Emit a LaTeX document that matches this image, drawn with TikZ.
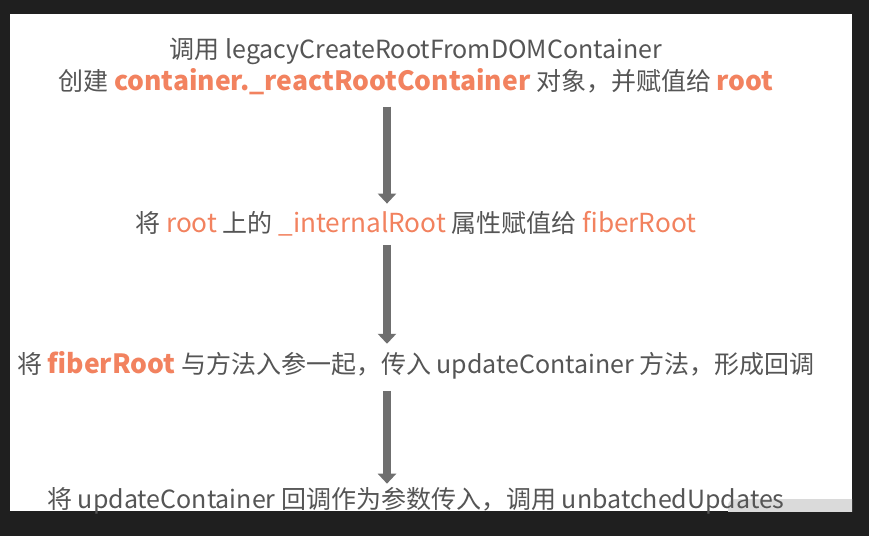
\documentclass[tikz,border=0pt]{standalone}
\usepackage{fontspec}
\setmainfont{Noto Sans CJK SC}
\usepackage{xcolor}
\usepackage{tikz}
\usetikzlibrary{arrows.meta,positioning,calc}
\definecolor{frame}{HTML}{1F1F1F}
\definecolor{inkgrey}{HTML}{555555}
\definecolor{salmon}{HTML}{F2825F}
\definecolor{shaft}{HTML}{6F6F6F}
\definecolor{scrollbar}{HTML}{DADADA}
\newcommand{\hl}[1]{{\fontsize{26.5}{30}\selectfont\bfseries\color{salmon}#1}}
\newcommand{\hlsoft}[1]{{\fontsize{26.2}{30}\selectfont\color{salmon}#1}}

\begin{document}
\begin{tikzpicture}[x=1pt,y=-1pt,
  stage/.style={anchor=base,inner sep=0pt,text=inkgrey,font=\fontsize{25}{29}\selectfont},
  flow/.style={draw=shaft,line width=8pt,-{Triangle[width=18pt,length=10pt]}}]
\useasboundingbox (0,0) rectangle (869,536);
\fill[frame] (0,0) rectangle (869,536);
\fill[white] (10,14) rectangle (852,511);
\begin{scope}
  \clip (10,14) rectangle (852,511);
  \fill[scrollbar,rounded corners=7pt] (728,499) rectangle (866,530);
\end{scope}
\coordinate (axis) at (387,0);
\node[stage] (call) at (416,58) {调用 legacyCreateRootFromDOMContainer};
\node[stage] (create) at (416,90) {创建 \hl{container.\_reactRootContainer} 对象，并赋值给 \hl{root}};
\node[stage] (assign) at (416,232) {将 \hlsoft{root} 上的 \hlsoft{\_internalRoot} 属性赋值给 \hlsoft{fiberRoot}};
\node[stage] (pass) at (416,373) {将 \hl{fiberRoot} 与方法入参一起，传入 updateContainer 方法，形成回调};
\node[stage] (invoke) at (416,508) {将 updateContainer 回调作为参数传入，调用 unbatchedUpdates};
% the three steps downwards
\draw[flow] ($(create.south -| axis)+(0,12)$) -- ($(assign.north -| axis)+(0,-7)$);
\draw[flow] ($(assign.south -| axis)+(0,9)$) -- ($(pass.north -| axis)+(0,-7)$);
\draw[flow] ($(pass.south -| axis)+(0,12)$) -- ($(invoke.north -| axis)+(0,-3)$);
\end{tikzpicture}
\end{document}
